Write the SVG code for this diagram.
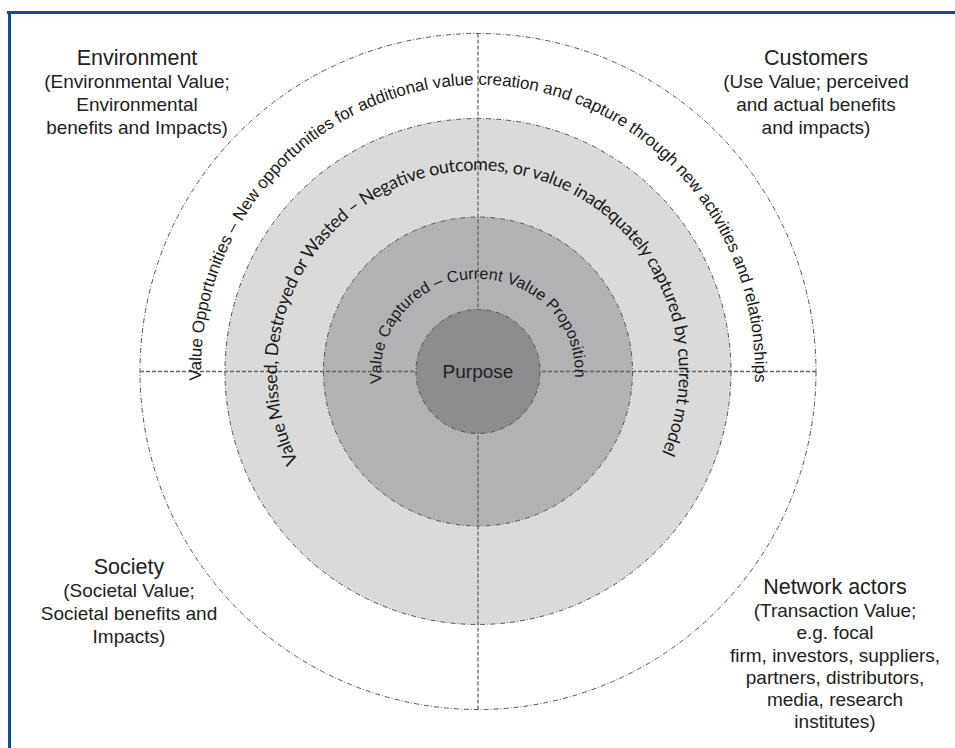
<svg xmlns="http://www.w3.org/2000/svg" width="955" height="748" viewBox="0 0 955 748">
  <style>
    .ring { stroke: #555; stroke-width: 1; stroke-dasharray: 5 2 1 2; }
    .axis { stroke: #666; stroke-width: 1.3; stroke-dasharray: 4 2; fill: none; }
    .lbl { font-family: "Liberation Sans", Arial, sans-serif; fill: #222; text-anchor: middle; }
    .hd { font-size: 21.5px; }
    .bd { font-size: 19px; }
    .arc { font-family: "Liberation Sans", Arial, sans-serif; fill: #1a1a1a; }
    .arc2 { font-family: Lato, "Open Sans", sans-serif; fill: #1a1a1a; }
  </style>
  <defs>
    <path id="p1" d="M 201.1 380.5 A 277 287 0 1 1 754.7 384.5"/>
    <path id="p2" d="M 298.3 461.5 A 201 201 0 1 1 660.8 455"/>
    <path id="p3" d="M 381.7 383 A 97 93 0 1 1 574.8 378"/>
  </defs>
  <rect x="0" y="0" width="955" height="748" fill="#fff"/>
  <g id="frame" fill="#0b4d9a">
    <rect x="7" y="11" width="948" height="3"/>
    <rect x="8" y="11" width="3" height="737"/>
  </g>

  <g id="ring-opportunities">
    <circle class="ring" cx="478" cy="371.5" r="338" fill="#ffffff"/>
  </g>
  <g id="ring-missed">
    <circle class="ring" cx="478" cy="371.5" r="253" fill="#dadada"/>
  </g>
  <g id="ring-captured">
    <circle class="ring" cx="478" cy="371.5" r="154.5" fill="#b2b2b4"/>
  </g>

  <g id="connectors">
    <line class="axis" x1="140" y1="371.5" x2="816" y2="371.5"/>
    <line class="axis" x1="478" y1="33.5" x2="478" y2="709.5"/>
  </g>

  <g id="purpose">
    <circle class="ring" cx="478" cy="371.5" r="62" fill="#8c8c8f"/>
    <text class="lbl" x="478" y="378" font-size="19">Purpose</text>
  </g>

  <g id="arc-text-opportunities">
    <text class="arc" font-size="17"><textPath href="#p1" textLength="905" lengthAdjust="spacing">Value Opportunities – New opportunities for additional value creation and capture through new activities and relationships</textPath></text>
  </g>
  <g id="arc-text-missed">
    <text class="arc2" font-size="18"><textPath href="#p2" textLength="808" lengthAdjust="spacing">Value Missed, Destroyed or Wasted – Negative outcomes, or value inadequately captured by current model</textPath></text>
  </g>
  <g id="arc-text-captured">
    <text class="arc" font-size="16"><textPath href="#p3" textLength="315" lengthAdjust="spacing">Value Captured – Current Value Proposition</textPath></text>
  </g>

  <g id="environment">
    <text class="lbl hd" x="137" y="65">Environment</text>
    <text class="lbl bd" x="137" y="88">(Environmental Value;</text>
    <text class="lbl bd" x="137" y="111">Environmental</text>
    <text class="lbl bd" x="137" y="134">benefits and Impacts)</text>
  </g>
  <g id="customers">
    <text class="lbl hd" x="816" y="65">Customers</text>
    <text class="lbl bd" x="816" y="88">(Use Value; perceived</text>
    <text class="lbl bd" x="816" y="111">and actual benefits</text>
    <text class="lbl bd" x="816" y="134">and impacts)</text>
  </g>
  <g id="society">
    <text class="lbl hd" x="129" y="574">Society</text>
    <text class="lbl bd" x="129" y="597">(Societal Value;</text>
    <text class="lbl bd" x="129" y="620">Societal benefits and</text>
    <text class="lbl bd" x="129" y="643">Impacts)</text>
  </g>
  <g id="network-actors">
    <text class="lbl hd" x="835" y="594">Network actors</text>
    <text class="lbl bd" x="835" y="617">(Transaction Value;</text>
    <text class="lbl bd" x="835" y="639">e.g. focal</text>
    <text class="lbl bd" x="835" y="662">firm, investors, suppliers,</text>
    <text class="lbl bd" x="835" y="684">partners, distributors,</text>
    <text class="lbl bd" x="835" y="706">media, research</text>
    <text class="lbl bd" x="835" y="728">institutes)</text>
  </g>
</svg>
